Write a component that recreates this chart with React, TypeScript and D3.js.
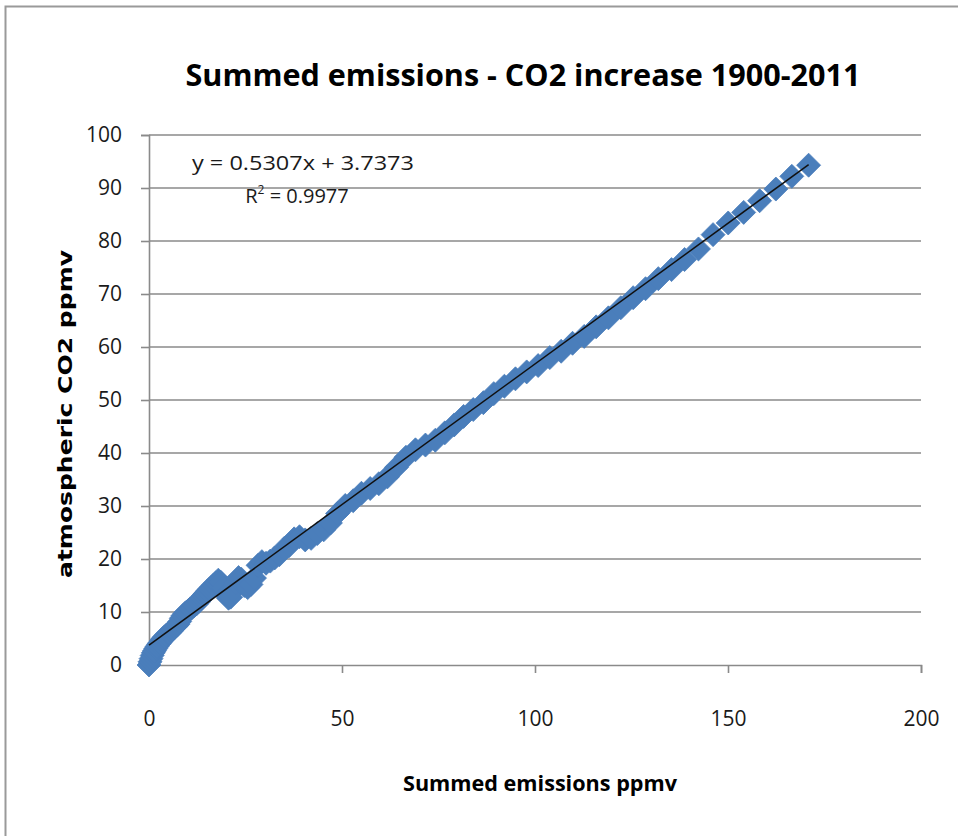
import { useEffect, useRef } from "react";
import * as d3 from "d3";

// summed emissions (ppmv), 1900..2011
const emissions = [
  0, 0.26, 0.53, 0.82, 1.12, 1.42, 1.75, 2.09, 2.48, 2.84,
  3.23, 3.63, 4.03, 4.46, 4.92, 5.34, 5.75, 6.19, 6.65, 7.1,
  7.49, 7.95, 8.36, 8.79, 9.27, 9.75, 10.23, 10.71, 11.22, 11.74,
  12.28, 12.79, 13.25, 13.68, 14.13, 14.61, 15.11, 15.65, 16.22, 16.76,
  17.33, 17.96, 18.61, 19.27, 19.94, 20.6, 21.16, 21.78, 22.47, 23.2,
  23.9, 24.7, 25.56, 26.43, 27.33, 28.25, 29.25, 30.32, 31.42, 32.56,
  33.76, 35.03, 36.29, 37.61, 38.99, 40.46, 42.0, 43.61, 45.26, 47.0,
  48.85, 50.84, 52.9, 55.04, 57.3, 59.54, 61.78, 64.13, 66.57, 69.03,
  71.62, 74.17, 76.63, 79.07, 81.5, 84.01, 86.62, 89.32, 92.07, 94.94,
  97.85, 100.81, 103.83, 106.78, 109.73, 112.75, 115.84, 119.02, 122.23, 125.43,
  128.64, 131.95, 135.37, 138.75, 142.35, 146.13, 150.05, 154.07, 158.2, 162.4,
  166.53, 170.89,
];

// atmospheric CO2 increase (ppmv)
const co2Increase = [
  0, 0.6, 1.2, 1.8, 2.3, 2.7, 3.1, 3.5, 3.9, 4.2,
  4.6, 5.0, 5.3, 5.6, 5.9, 6.1, 6.4, 6.8, 7.1, 7.4,
  7.7, 8.2, 8.8, 9.3, 9.7, 10.0, 10.3, 10.6, 10.9, 11.2,
  11.5, 11.9, 12.3, 12.7, 13.1, 13.5, 13.9, 14.3, 14.7, 15.1,
  15.5, 16.0, 15.6, 14.5, 13.3, 12.6, 12.8, 14.0, 15.5, 16.5,
  16.2, 15.0, 14.6, 15.2, 16.4, 18.8, 19.5, 19.2, 19.6, 20.2,
  20.8, 22.0, 22.5, 23.8, 24.2, 23.6, 23.9, 24.8, 25.5, 26.8,
  28.6, 30.1, 31.0, 32.4, 33.3, 34.2, 35.5, 37.3, 39.2, 40.6,
  41.5, 42.4, 43.8, 45.3, 46.9, 48.2, 49.5, 51.2, 52.6, 54.0,
  55.3, 56.5, 58.0, 59.2, 60.7, 62.0, 63.8, 65.5, 67.4, 69.3,
  71.0, 72.9, 74.6, 76.5, 78.5, 81.2, 83.4, 85.4, 87.6, 89.8,
  92.2, 94.3,
];

const xTicks = [0, 50, 100, 150, 200];
const yTicks = [0, 10, 20, 30, 40, 50, 60, 70, 80, 90, 100];

const slope = 0.5307;
const intercept = 3.7373;

const W = 958;
const H = 836;
const gridColor = "#8a8a8a";
const markerColor = "#4a7ebb";

export default function App() {
  const svgRef = useRef<SVGSVGElement>(null);

  useEffect(() => {
    if (!svgRef.current) return;
    const svg = d3.select(svgRef.current);
    svg.selectAll("*").remove();

    const x = d3.scaleLinear().domain([0, 200]).range([149, 921]);
    const y = d3.scaleLinear().domain([0, 100]).range([665, 135]);

    svg.append("rect").attr("width", W).attr("height", H).attr("fill", "#fff");

    // outer chart border
    svg
      .append("rect")
      .attr("x", 5.5)
      .attr("y", 6.5)
      .attr("width", W + 20)
      .attr("height", H + 20)
      .attr("fill", "none")
      .attr("stroke", "#9a9a9a")
      .attr("stroke-width", 2);

    // title
    svg
      .append("text")
      .attr("x", 523)
      .attr("y", 86)
      .attr("text-anchor", "middle")
      .attr("font-family", "Open Sans")
      .attr("font-weight", 700)
      .attr("font-size", 31)
      .attr("textLength", 675)
      .attr("lengthAdjust", "spacingAndGlyphs")
      .text("Summed emissions - CO2 increase 1900-2011");

    // horizontal gridlines
    svg
      .append("g")
      .selectAll("line")
      .data(yTicks.filter((t) => t > 0))
      .join("line")
      .attr("x1", x(0))
      .attr("x2", x(200))
      .attr("y1", (d) => y(d))
      .attr("y2", (d) => y(d))
      .attr("stroke", gridColor)
      .attr("stroke-width", 1.6);

    // y axis
    const yAxis = d3
      .axisLeft(y)
      .tickValues(yTicks)
      .tickSize(8)
      .tickPadding(19)
      .tickFormat((d) => String(d));
    const gy = svg.append("g").attr("transform", `translate(${x(0)},0)`).call(yAxis);
    gy.select(".domain").attr("stroke", gridColor).attr("stroke-width", 1.6);
    gy.selectAll(".tick line").attr("stroke", gridColor).attr("stroke-width", 1.6);
    gy.selectAll(".tick text")
      .attr("font-family", "Open Sans")
      .attr("font-size", 21)
      .attr("fill", "#1a1a1a");

    // x axis
    const xAxis = d3
      .axisBottom(x)
      .tickValues(xTicks)
      .tickSize(8)
      .tickPadding(38)
      .tickFormat((d) => String(d));
    const gx = svg.append("g").attr("transform", `translate(0,${y(0)})`).call(xAxis);
    gx.select(".domain").attr("stroke", gridColor).attr("stroke-width", 1.6);
    gx.selectAll(".tick line").attr("stroke", gridColor).attr("stroke-width", 1.6);
    gx.selectAll(".tick text")
      .attr("font-family", "Open Sans")
      .attr("font-size", 21)
      .attr("fill", "#1a1a1a");

    // markers
    const points = emissions.map((e, i) => [e, co2Increase[i]] as [number, number]);
    const r = 12;
    svg
      .append("g")
      .selectAll("path")
      .data(points)
      .join("path")
      .attr("transform", (d) => `translate(${x(d[0])},${y(d[1])})`)
      .attr("d", `M0,${-r}L${r},0L0,${r}L${-r},0Z`)
      .attr("fill", markerColor)
      .attr("stroke", markerColor)
      .attr("stroke-width", 0.8);

    // linear trendline
    const xMax = d3.max(emissions) ?? 0;
    const line = d3
      .line<number>()
      .x((d) => x(d))
      .y((d) => y(slope * d + intercept));
    svg
      .append("path")
      .attr("d", line([0, xMax]))
      .attr("stroke", "#111")
      .attr("stroke-width", 1.5)
      .attr("fill", "none");

    // trendline label
    const eq = svg
      .append("g")
      .attr("font-family", "Open Sans")
      .attr("font-size", 20)
      .attr("fill", "#1a1a1a")
      .attr("text-anchor", "middle");
    eq.append("text")
      .attr("x", 303)
      .attr("y", 170)
      .attr("textLength", 222)
      .attr("lengthAdjust", "spacingAndGlyphs")
      .text("y = 0.5307x + 3.7373");
    const r2 = eq.append("text").attr("x", 297).attr("y", 203);
    r2.append("tspan").text("R");
    r2.append("tspan").attr("font-size", 12).attr("dy", -9).text("2");
    r2.append("tspan").attr("dy", 9).text(" = 0.9977");

    // axis titles
    svg
      .append("text")
      .attr("x", 540)
      .attr("y", 791)
      .attr("text-anchor", "middle")
      .attr("font-family", "Open Sans")
      .attr("font-weight", 700)
      .attr("font-size", 22)
      .attr("textLength", 274)
      .attr("lengthAdjust", "spacingAndGlyphs")
      .text("Summed emissions ppmv");

    svg
      .append("text")
      .attr("transform", "translate(72,414) rotate(-90)")
      .attr("text-anchor", "middle")
      .attr("font-family", "DejaVu Sans")
      .attr("font-weight", 700)
      .attr("font-size", 19)
      .attr("textLength", 328)
      .attr("lengthAdjust", "spacingAndGlyphs")
      .text("atmospheric CO2 ppmv");
  }, []);

  return (
    <div style={{ position: "absolute", left: 0, top: 0 }}>
      <svg ref={svgRef} width={W} height={H} style={{ display: "block" }} />
    </div>
  );
}
